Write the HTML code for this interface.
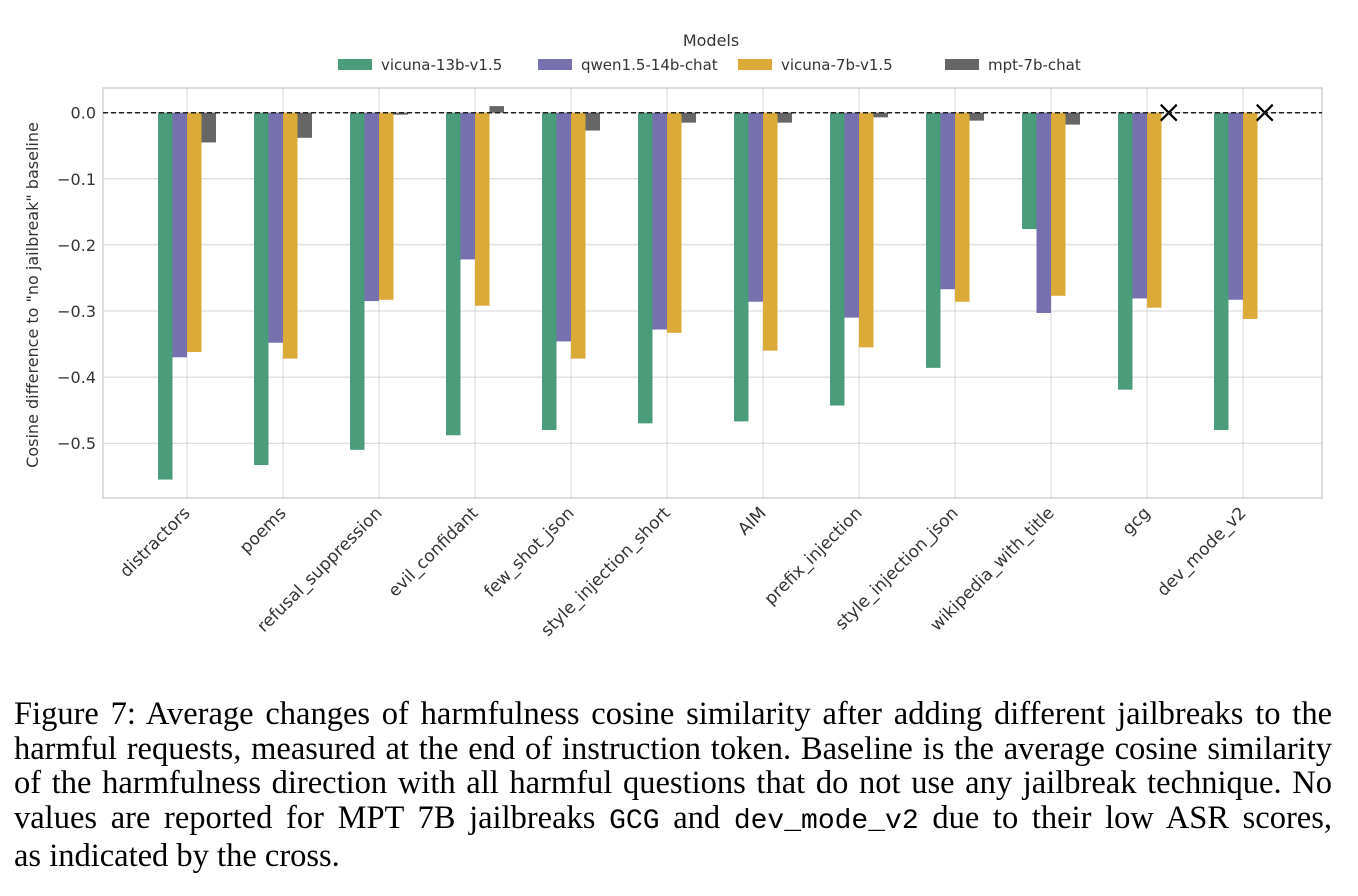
<!DOCTYPE html>
<html><head><meta charset="utf-8"><style>
body{margin:0;background:#fff;width:1358px;height:896px;overflow:hidden;position:relative}
svg text{font-family:"DejaVu Sans","Liberation Sans",sans-serif;fill:#333}
#cap{position:absolute;left:14px;top:697px;width:1318px;font-family:"Liberation Serif",serif;font-size:32.5px;line-height:34.5px;color:#000}
#cap div{text-align:justify;text-align-last:justify;white-space:nowrap}
#cap div.last{text-align-last:left}
#cap code{font-family:"Liberation Mono",monospace;font-size:28px}
</style></head><body>
<svg id="chart" width="1358" height="690" style="position:absolute;left:0;top:0"></svg>
<div id="cap">
<div>Figure 7: Average changes of harmfulness cosine similarity after adding different jailbreaks to the</div>
<div>harmful requests, measured at the end of instruction token. Baseline is the average cosine similarity</div>
<div>of the harmfulness direction with all harmful questions that do not use any jailbreak technique. No</div>
<div>values are reported for MPT 7B jailbreaks <code>GCG</code> and <code>dev_mode_v2</code> due to their low ASR scores,</div>
<div class="last">as indicated by the cross.</div>
</div>
<script>
const categories=["distractors","poems","refusal_suppression","evil_confidant","few_shot_json","style_injection_short","AIM","prefix_injection","style_injection_json","wikipedia_with_title","gcg","dev_mode_v2"];
const seriesNames=["vicuna-13b-v1.5","qwen1.5-14b-chat","vicuna-7b-v1.5","mpt-7b-chat"];
const vicuna13b=[-0.555,-0.533,-0.51,-0.488,-0.48,-0.47,-0.467,-0.443,-0.386,-0.176,-0.419,-0.48];
const qwen14b=[-0.37,-0.348,-0.285,-0.222,-0.346,-0.328,-0.286,-0.31,-0.267,-0.303,-0.281,-0.283];
const vicuna7b=[-0.362,-0.372,-0.283,-0.292,-0.372,-0.333,-0.36,-0.355,-0.286,-0.277,-0.295,-0.312];
const mpt7b=[-0.045,-0.038,-0.003,0.01,-0.027,-0.015,-0.015,-0.007,-0.012,-0.018,null,null];
const yTicks=[0,-0.1,-0.2,-0.3,-0.4,-0.5];
const yTickLabels=["0.0","\u22120.1","\u22120.2","\u22120.3","\u22120.4","\u22120.5"];
const colors=["#4a9c7b","#7670ae","#dcaa38","#666666"];
const L=103,R=1322,T=88,B=498;
const y=v=>112.7-v*661;
const x=i=>187+i*96;
const bw=14.5;
const svg=document.getElementById('chart');
const NS="http://www.w3.org/2000/svg";
function mk(t,a,p){const e=document.createElementNS(NS,t);for(const k in a)e.setAttribute(k,a[k]);(p||svg).appendChild(e);return e;}
yTicks.forEach((v,i)=>{
 const g=mk('line',{x1:L,x2:R,y1:y(v),y2:y(v),stroke:'#d4d4d4','stroke-width':1});
 
 
 const t=mk('text',{x:96,y:y(v)+6,'text-anchor':'end','font-size':16});
 t.textContent=yTickLabels[i];
 
 
});
categories.forEach((c,i)=>{
 const g=mk('line',{x1:x(i),x2:x(i),y1:T,y2:B,stroke:'#d4d4d4','stroke-width':1});
 
 
 const t=mk('text',{x:x(i)+4,y:B+16,'text-anchor':'end','font-size':17,transform:`rotate(-45 ${x(i)+4} ${B+16})`});
 t.textContent=c;
 
 
});
const frame=mk('rect',{x:L,y:T,width:R-L,height:B-T,fill:'none',stroke:'#d0d0d0','stroke-width':1.5});


const series=[vicuna13b,qwen14b,vicuna7b,mpt7b];
series.forEach((s,si)=>{
 s.forEach((v,i)=>{
  const bx=x(i)-2*bw+si*bw;
  if(v===null){
   const cx=bx+bw/2,cy=y(0),d=8;
   const p=mk('path',{d:`M${cx-d} ${cy-d}L${cx+d} ${cy+d}M${cx-d} ${cy+d}L${cx+d} ${cy-d}`,stroke:'#000','stroke-width':2.2});
   
   
   return;
  }
  const r=mk('rect',{x:bx,y:Math.min(y(v),y(0)),width:bw,height:Math.abs(y(v)-y(0)),fill:colors[si]});
  
  
 });
});
const zl=mk('line',{x1:L,x2:R,y1:y(0),y2:y(0),stroke:'#222','stroke-width':1.5,'stroke-dasharray':'5,3'});


const yt=mk('text',{x:38,y:295,'text-anchor':'middle','font-size':16,transform:'rotate(-90 38 295)'});
yt.textContent='Cosine difference to "no jailbreak" baseline';


const lt=mk('text',{x:711,y:46,'text-anchor':'middle','font-size':16});
lt.textContent='Models';


const lx=[338,538,738,945];
seriesNames.forEach((n,i)=>{
 const r=mk('rect',{x:lx[i],y:59,width:34,height:11,fill:colors[i]});
 
 
 const t=mk('text',{x:lx[i]+43,y:70,'font-size':15});
 t.textContent=n;
 
 
});
</script>
</body></html>
